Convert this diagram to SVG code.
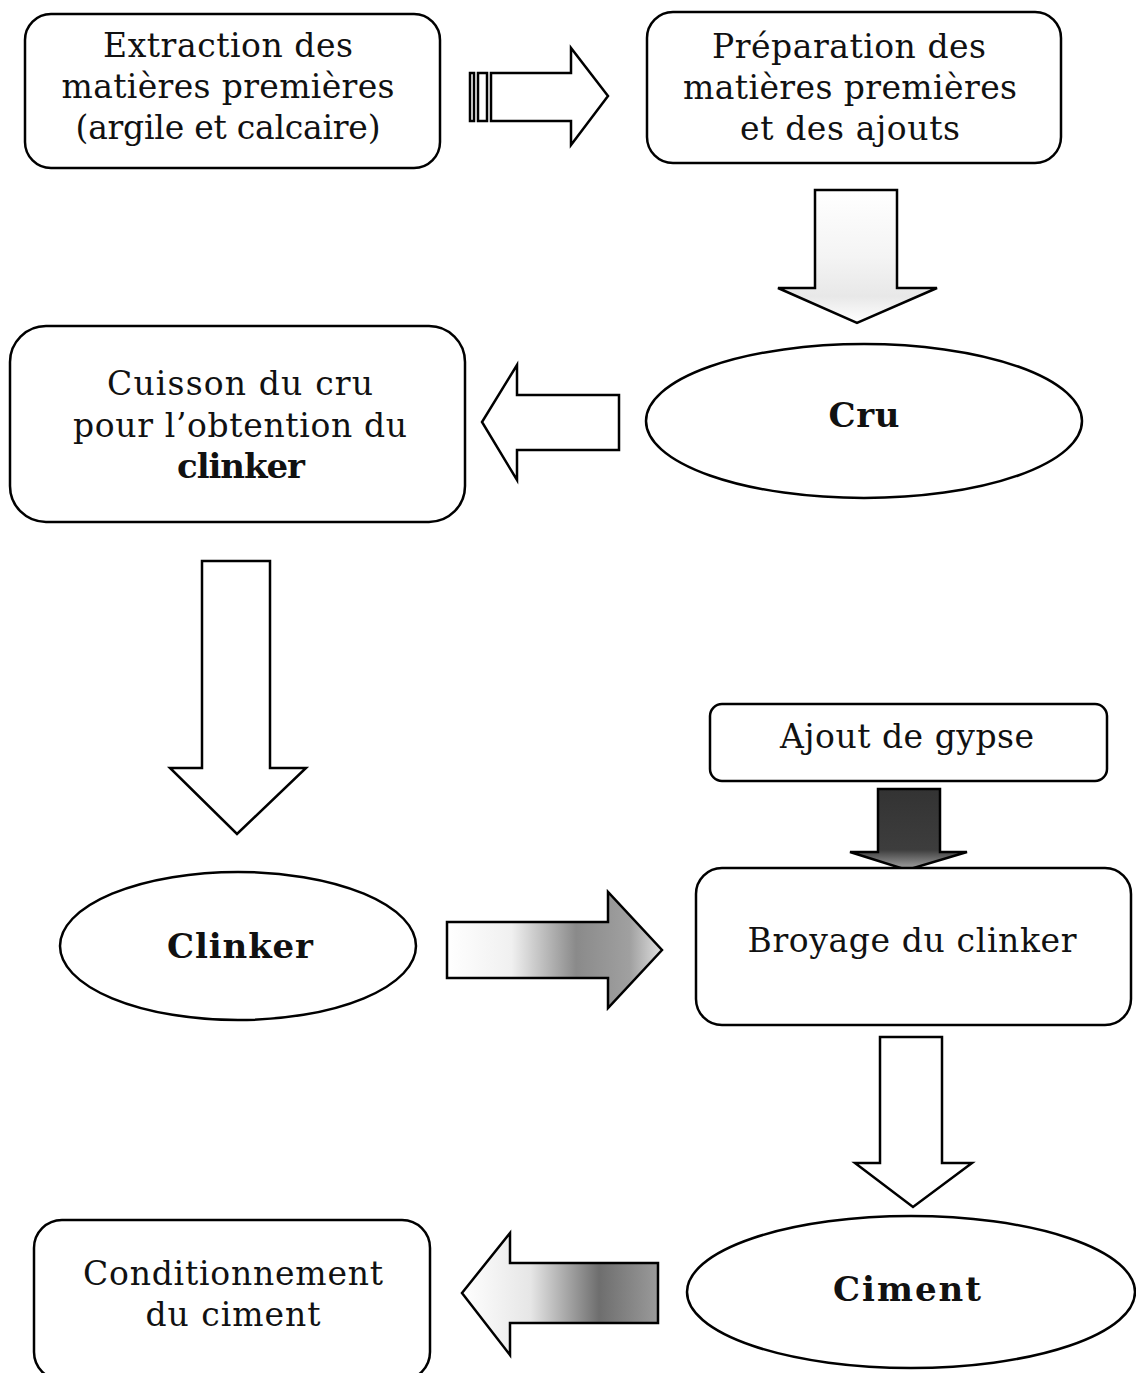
<svg xmlns="http://www.w3.org/2000/svg" width="1136" height="1373" viewBox="0 0 1136 1373">
  <style>
    .box { fill: #fff; stroke: #000; stroke-width: 2.5; }
    .arrow { fill: #fff; stroke: #000; stroke-width: 2.5; stroke-linejoin: miter; }
    .t { font-family: "DejaVu Serif", "Liberation Serif", serif; font-size: 33px; fill: #111; text-anchor: middle; }
    .b { font-weight: bold; font-size: 34px; }
  </style>
  <defs>
    <linearGradient id="shadeRight" x1="0" y1="0" x2="1" y2="0">
      <stop offset="0" stop-color="#fff"/>
      <stop offset="0.3" stop-color="#f0f0f0"/>
      <stop offset="0.6" stop-color="#8a8a8a"/>
      <stop offset="0.85" stop-color="#a0a0a0"/>
      <stop offset="1" stop-color="#e0e0e0"/>
    </linearGradient>
    <linearGradient id="shadeLeft" x1="1" y1="0" x2="0" y2="0">
      <stop offset="0" stop-color="#9a9a9a"/>
      <stop offset="0.3" stop-color="#6e6e6e"/>
      <stop offset="0.65" stop-color="#e6e6e6"/>
      <stop offset="1" stop-color="#fff"/>
    </linearGradient>
    <linearGradient id="shadeDark" x1="0" y1="0" x2="0" y2="1">
      <stop offset="0" stop-color="#333"/>
      <stop offset="0.75" stop-color="#3d3d3d"/>
      <stop offset="1" stop-color="#a8a8a8"/>
    </linearGradient>
    <linearGradient id="shadeLight" x1="0" y1="0" x2="0" y2="1">
      <stop offset="0" stop-color="#fff"/>
      <stop offset="0.5" stop-color="#f4f4f4"/>
      <stop offset="0.8" stop-color="#e8e8e8"/>
      <stop offset="1" stop-color="#fff"/>
    </linearGradient>
  </defs>

  <!-- connectors: block arrows between the steps -->
  <g id="connectors">
    <g id="arrow-extraction-preparation">
      <rect class="arrow" x="470" y="73" width="4" height="48"/>
      <rect class="arrow" x="478" y="73" width="9" height="48"/>
      <path class="arrow" d="M491,73 H571 V48 L608,96 L571,145 V121 H491 Z"/>
    </g>
    <path id="arrow-preparation-cru" class="arrow" style="fill:url(#shadeLight)" d="M815,190 H897 V288 H937 L857,323 L778,288 H815 Z"/>
    <path id="arrow-cru-cuisson" class="arrow" d="M619,395 H517 V365 L482,422 L517,480 V450 H619 Z"/>
    <path id="arrow-cuisson-clinker" class="arrow" d="M202,561 H270 V768 H306 L237,834 L170,768 H202 Z"/>
    <path id="arrow-gypse-broyage" class="arrow" style="fill:url(#shadeDark)" d="M878,789 H940 V852 H967 L907,870 L850,852 H878 Z"/>
    <path id="arrow-clinker-broyage" class="arrow" style="fill:url(#shadeRight)" d="M447,922 H608 V892 L662,950 L608,1008 V978 H447 Z"/>
    <path id="arrow-broyage-ciment" class="arrow" d="M880,1037 H942 V1163 H972 L913,1207 L855,1163 H880 Z"/>
    <path id="arrow-ciment-conditionnement" class="arrow" style="fill:url(#shadeLeft)" d="M658,1263 H510 V1233 L462,1293 L510,1355 V1323 H658 Z"/>
  </g>

  <g id="node-extraction">
    <rect class="box" x="25" y="14" width="415" height="154" rx="26"/>
    <text class="t" x="228" y="57" textLength="250">Extraction des</text>
    <text class="t" x="228" y="98" textLength="333">matières premières</text>
    <text class="t" x="228" y="139" textLength="305">(argile et calcaire)</text>
  </g>

  <g id="node-preparation">
    <rect class="box" x="647" y="12" width="414" height="151" rx="26"/>
    <text class="t" x="849" y="58" textLength="274">Préparation des</text>
    <text class="t" x="850" y="99" textLength="334">matières premières</text>
    <text class="t" x="850" y="140" textLength="220">et des ajouts</text>
  </g>

  <g id="node-cru">
    <ellipse class="box" cx="864" cy="421" rx="218" ry="77"/>
    <text class="t b" x="864" y="427" textLength="71">Cru</text>
  </g>

  <g id="node-cuisson">
    <rect class="box" x="10" y="326" width="455" height="196" rx="36"/>
    <text class="t" x="240" y="395" textLength="266">Cuisson du cru</text>
    <text class="t" x="240" y="437" textLength="334">pour l’obtention du</text>
    <text class="t b" x="241" y="478" textLength="128">clinker</text>
  </g>

  <g id="node-clinker">
    <ellipse class="box" cx="238" cy="946" rx="178" ry="74"/>
    <text class="t b" x="240" y="958" textLength="146">Clinker</text>
  </g>

  <g id="node-gypse">
    <rect class="box" x="710" y="704" width="397" height="77" rx="12"/>
    <text class="t" x="907" y="748" textLength="254">Ajout de gypse</text>
  </g>

  <g id="node-broyage">
    <rect class="box" x="696" y="868" width="435" height="157" rx="26"/>
    <text class="t" x="912" y="952" textLength="329">Broyage du clinker</text>
  </g>

  <g id="node-ciment">
    <ellipse class="box" cx="911" cy="1292" rx="224" ry="76"/>
    <text class="t b" x="907" y="1301" textLength="148">Ciment</text>
  </g>

  <g id="node-conditionnement">
    <rect class="box" x="34" y="1220" width="396" height="160" rx="28"/>
    <text class="t" x="233" y="1285" textLength="300">Conditionnement</text>
    <text class="t" x="233" y="1326" textLength="175">du ciment</text>
  </g>
</svg>
